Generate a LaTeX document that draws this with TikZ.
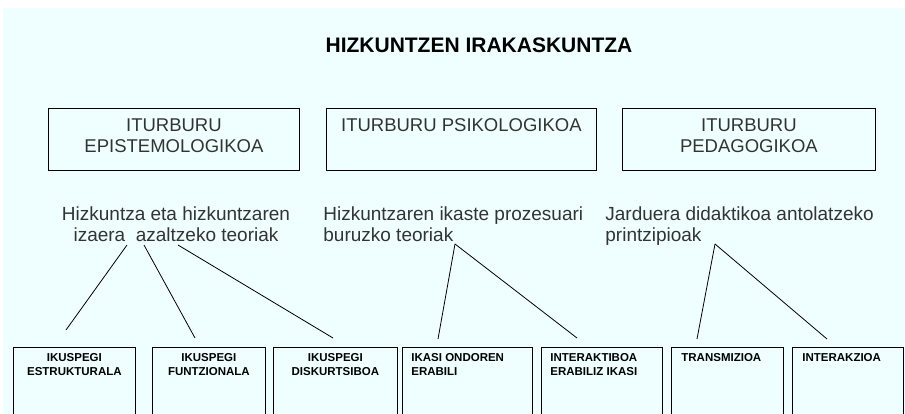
\documentclass[tikz,border=0pt]{standalone}
\usepackage{fontspec}
\setmainfont{Liberation Sans}
\usetikzlibrary{calc}
\definecolor{paleazure}{HTML}{EFFFFF}
\definecolor{inkgrey}{HTML}{333333}

\begin{document}
\begin{tikzpicture}[x=1pt, y=-1pt, line width=0.8pt,
		toprect/.style={draw, anchor=north west, inner sep=0pt, minimum height=62, minimum width=#1},
		toptext/.style={anchor=north, inner sep=0pt, align=center, text=inkgrey, font=\fontsize{18.5}{21}\selectfont},
		theory/.style={inner sep=0pt, text=inkgrey, font=\fontsize{19}{21}\selectfont},
		lowrect/.style={draw, anchor=north west, inner sep=0pt, minimum height=90, minimum width=#1},
		lowtext/.style={inner sep=0pt, font=\fontsize{11.5}{14}\selectfont\bfseries}]
				% hizkuntzen irakaskuntza
				\clip (0,0) rectangle (905,414);
				\fill[paleazure] (3,8) rectangle (905,414);
				\node[inner sep=0pt, font=\fontsize{21}{24}\selectfont\bfseries] (title) at (479,45.5) {HIZKUNTZEN IRAKASKUNTZA};
				
				% iturburuak
				\node[toprect=251] (episte) at (48,108) {};
				\node[toprect=270] (psiko) at (326,108) {};
				\node[toprect=253] (pedago) at (622,108) {};
				\node[toptext] (epistet) at ($(episte.north)+(0,10)$) {ITURBURU\\EPISTEMOLOGIKOA};
				\node[toptext] (psikot) at ($(psiko.north)+(0,10)$) {ITURBURU PSIKOLOGIKOA};
				\node[toptext] (pedagot) at ($(pedago.north)+(0,10)$) {ITURBURU\\PEDAGOGIKOA};
				
				% teoriak
				\node[theory, anchor=north, align=center] (hizk) at (176,206) {Hizkuntza eta hizkuntzaren\\izaera~~azaltzeko teoriak};
				\node[theory, anchor=north west, align=left] (ikaste) at (323,206) {Hizkuntzaren ikaste prozesuari\\buruzko teoriak};
				\node[theory, anchor=north west, align=left] (jard) at (605,206) {Jarduera didaktikoa antolatzeko\\printzipioak};
				
				% ikuspegiak
				\node[lowrect=122] (estr) at (13,347) {};
				\node[lowrect=113] (funtz) at (152,347) {};
				\node[lowrect=124] (disk) at (273,347) {};
				\node[lowrect=130] (ondor) at (402,347) {};
				\node[lowrect=121] (inter) at (541,347) {};
				\node[lowrect=112] (trans) at (671,347) {};
				\node[lowrect=111] (interak) at (792,347) {};
				\node[lowtext, anchor=north, align=center] (estrt) at ($(estr.north)+(0,6)$) {IKUSPEGI\\ESTRUKTURALA};
				\node[lowtext, anchor=north, align=center] (funtzt) at ($(funtz.north)+(0,6)$) {IKUSPEGI\\FUNTZIONALA};
				\node[lowtext, anchor=north, align=center] (diskt) at ($(disk.north)+(0,6)$) {IKUSPEGI\\DISKURTSIBOA};
				\node[lowtext, anchor=north west, align=left] (ondort) at ($(ondor.north west)+(9,6)$) {IKASI ONDOREN\\ERABILI};
				\node[lowtext, anchor=north west, align=left] (intert) at ($(inter.north west)+(9,6)$) {INTERAKTIBOA\\ERABILIZ IKASI};
				\node[lowtext, anchor=north west, align=left] (transt) at ($(trans.north west)+(10,6)$) {TRANSMIZIOA};
				\node[lowtext, anchor=north west, align=left] (interakt) at ($(interak.north west)+(10,6)$) {INTERAKZIOA};
				
				% lerroak
				\coordinate (h1) at (127,245);
				\coordinate (h2) at (144,245);
				\coordinate (h3) at (178,245);
				\coordinate (ik) at (455,244);
				\coordinate (ja) at (715,244);
				\coordinate (estrup) at (66,330);
				\coordinate (funtzup) at (195,338);
				\coordinate (diskup) at (333,338);
				\coordinate (ondorup) at (438,339);
				\coordinate (interup) at (577,338);
				\coordinate (transup) at (697,339);
				\coordinate (interakup) at (827,339);
				\draw (h1) -- (estrup);
				\draw (h2) -- (funtzup);
				\draw (h3) -- (diskup);
				\draw (ik) -- (ondorup);
				\draw (ik) -- (interup);
				\draw (ja) -- (transup);
				\draw (ja) -- (interakup);
		\end{tikzpicture}
\end{document}
